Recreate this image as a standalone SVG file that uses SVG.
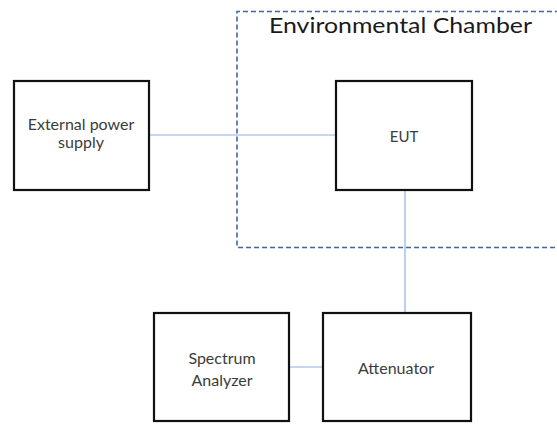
<svg xmlns="http://www.w3.org/2000/svg" width="557" height="424" viewBox="0 0 557 424">
<style>
.box{fill:#fff;stroke:#111;stroke-width:2.2}
.lbl{font-family:Lato,"Open Sans","Liberation Sans",sans-serif;font-size:16px;fill:#3c3c3c;text-anchor:middle}
.conn{stroke:#8fb0e0;stroke-width:1.2;fill:none}
.chamber{fill:none;stroke:#3f66a6;stroke-width:1.6;stroke-dasharray:5 3}
.title{font-family:Lato,"Open Sans","Liberation Sans",sans-serif;font-size:21px;fill:#1a1a1a}
</style>
<rect width="557" height="424" fill="#fff"/>
<g id="chamber">
<path class="chamber" d="M560,11.5 H237 V247.5 H560"/>
<text class="title" x="269" y="33" textLength="263" lengthAdjust="spacingAndGlyphs">Environmental Chamber</text>
</g>
<g id="connectors">
<line class="conn" x1="149" y1="135" x2="336" y2="135"/>
<line class="conn" x1="405" y1="190" x2="405" y2="313"/>
<line class="conn" x1="289" y1="367" x2="323" y2="367"/>
</g>
<g id="power">
<rect class="box" x="14" y="81" width="135" height="109"/>
<text class="lbl" x="81" y="130">External power</text>
<text class="lbl" x="81" y="148">supply</text>
</g>
<g id="eut">
<rect class="box" x="336" y="81" width="136" height="109"/>
<text class="lbl" x="404" y="142" style="font-size:15px">EUT</text>
</g>
<g id="analyzer">
<rect class="box" x="154" y="313" width="135" height="108"/>
<text class="lbl" x="222" y="364">Spectrum</text>
<text class="lbl" x="222" y="386">Analyzer</text>
</g>
<g id="attenuator">
<rect class="box" x="323" y="313" width="148" height="108"/>
<text class="lbl" x="396" y="374">Attenuator</text>
</g>
</svg>
